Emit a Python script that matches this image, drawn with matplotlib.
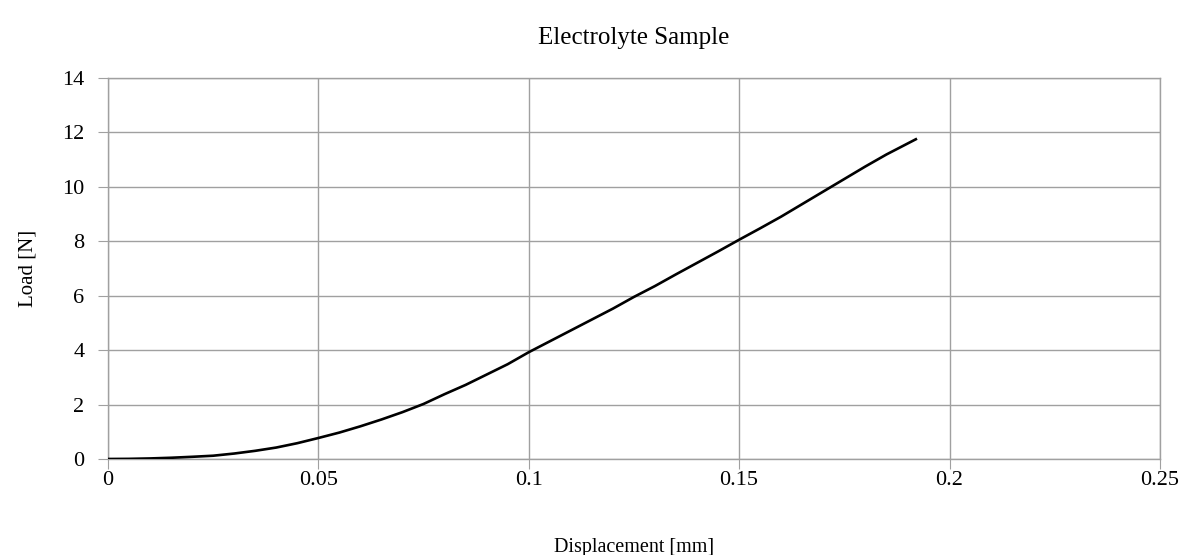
"""Load-displacement curve of the electrolyte sample."""
import matplotlib
matplotlib.use("Agg")
import matplotlib.pyplot as plt

plt.rcParams["font.family"] = ["Liberation Serif", "DejaVu Serif"]

# values
displacement_mm = [0.0, 0.005, 0.01, 0.015, 0.02, 0.025, 0.03, 0.035, 0.04, 0.045,
                   0.05, 0.055, 0.06, 0.065, 0.07, 0.075, 0.08, 0.085, 0.09, 0.095,
                   0.1, 0.105, 0.11, 0.115, 0.12, 0.125, 0.13, 0.135, 0.14, 0.145,
                   0.15, 0.155, 0.16, 0.165, 0.17, 0.175, 0.18, 0.185, 0.192]
load_n = [0.0, 0.005, 0.02, 0.045, 0.08, 0.12, 0.2, 0.3, 0.42, 0.58,
          0.77, 0.97, 1.2, 1.45, 1.72, 2.02, 2.38, 2.72, 3.1, 3.48,
          3.92, 4.32, 4.72, 5.12, 5.52, 5.95, 6.35, 6.78, 7.2, 7.62,
          8.05, 8.47, 8.9, 9.36, 9.82, 10.28, 10.74, 11.18, 11.74]

x_ticks = [0, 0.05, 0.1, 0.15, 0.2, 0.25]
x_tick_labels = ["0", "0.05", "0.1", "0.15", "0.2", "0.25"]
y_ticks = [0, 2, 4, 6, 8, 10, 12, 14]

C_GRID = "#a0a0a0"

fig, ax = plt.subplots(figsize=(11.86, 5.55), dpi=100)
fig.subplots_adjust(left=0.091, right=0.978, top=0.86, bottom=0.173)

ax.plot(displacement_mm, load_n, color="black", linewidth=1.9, zorder=3)

ax.set_xlim(0, 0.25)
ax.set_ylim(0, 14)
ax.set_xticks(x_ticks)
ax.set_xticklabels(x_tick_labels)
ax.set_yticks(y_ticks)
ax.grid(True, color=C_GRID, linewidth=1.0)
ax.set_axisbelow(True)
for side in ["top", "right", "left", "bottom"]:
    ax.spines[side].set_color(C_GRID)
    ax.spines[side].set_linewidth(1.0)
ax.tick_params(axis="both", direction="out", length=7, color=C_GRID,
               labelsize=16, labelcolor="black")
ax.tick_params(axis="x", pad=2)
ax.tick_params(axis="y", pad=10)

ax.set_title("Electrolyte Sample", fontsize=18, pad=24)
ax.set_xlabel("Displacement [mm]", fontsize=14.5, labelpad=34)
ax.set_ylabel("Load [N]", fontsize=15, labelpad=18)

fig.savefig("out.png", dpi=100)
